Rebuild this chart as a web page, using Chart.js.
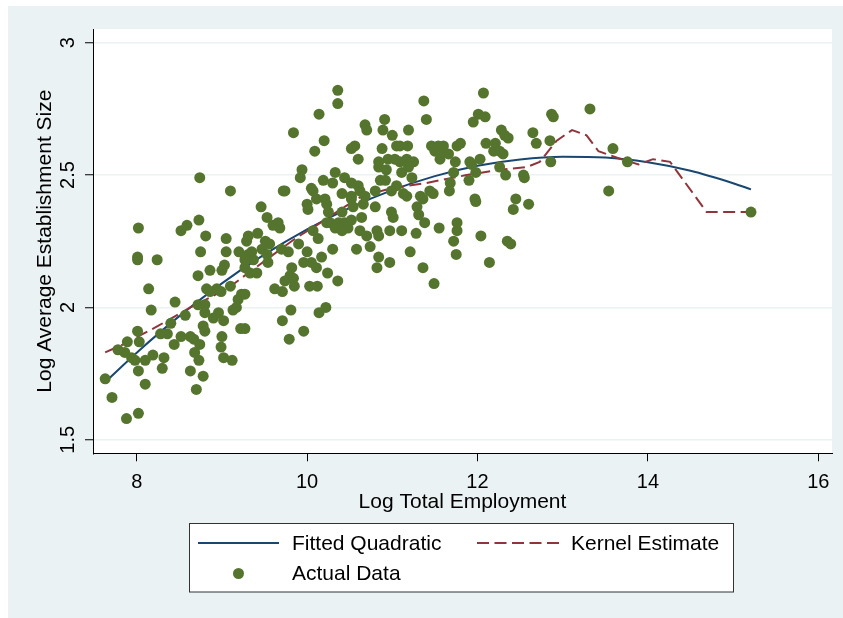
<!DOCTYPE html>
<html><head><meta charset="utf-8">
<script src="https://cdn.jsdelivr.net/npm/chart.js@4.4.1/dist/chart.umd.min.js"></script>
<style>html,body{margin:0;padding:0;background:#fff;}#wrap{width:843px;height:618px;}</style>
</head><body><div id="wrap"><canvas id="c" width="843" height="618"></canvas></div>
<script>
// ---- tick values / labels ----
const xTicks = [8, 10, 12, 14, 16];
const yTicks = [1.5, 2, 2.5, 3];
const yTickLabels = ['1.5', '2', '2.5', '3'];

// ---- Actual Data (log total employment, log average establishment size) ----
const actualX = [
  8.74,9.10,8.02,8.52,8.59,8.73,8.81,9.05,8.75,9.05,
  9.20,8.01,8.01,8.24,8.86,9.03,9.00,8.72,8.14,8.82,
  8.86,8.94,8.99,9.10,9.23,9.19,9.17,9.13,9.27,8.45,
  8.17,8.72,8.80,8.57,8.80,8.90,8.96,9.02,8.40,8.78,
  8.80,9.22,8.01,7.89,8.03,8.28,8.36,8.52,8.63,8.67,
  8.74,8.44,9.00,8.99,7.78,7.86,7.94,7.98,8.10,8.19,
  8.32,8.30,8.68,8.73,9.02,9.12,8.02,8.63,8.78,8.10,
  8.70,7.63,7.71,7.88,8.02,
  10.36,10.36,10.14,9.84,10.20,10.09,10.91,10.68,10.70,10.89,
  11.00,10.56,10.52,10.60,10.88,11.05,10.84,10.95,11.03,10.84,
  10.93,11.11,9.94,9.92,10.33,10.19,10.30,10.44,10.52,10.60,
  10.05,10.07,9.72,9.74,10.41,10.52,10.62,10.68,10.80,10.86,
  10.92,10.99,11.05,10.00,10.01,10.11,10.21,10.23,10.52,10.54,
  10.66,10.80,9.46,9.53,9.60,9.66,9.68,10.25,10.41,10.27,
  10.37,10.44,10.52,10.64,10.23,10.33,10.41,10.48,10.07,10.13,
  10.62,10.70,10.82,10.84,10.97,11.11,10.74,10.58,9.42,9.31,
  9.29,9.51,9.56,9.47,9.53,9.54,9.35,9.31,9.37,9.27,
  9.70,9.78,9.90,10.00,9.96,10.05,10.11,10.17,10.30,10.24,
  10.36,9.82,9.80,9.74,9.84,9.85,9.62,9.71,10.03,10.12,
  9.33,9.41,9.27,9.81,9.71,9.79,9.96,10.14,10.22,9.27,
  10.97,10.82,10.84,11.13,11.01,10.99,
  12.07,11.37,11.40,12.01,11.95,12.09,12.87,12.89,11.19,12.28,
  12.32,12.36,12.65,12.69,12.85,11.09,11.18,11.46,11.54,11.60,
  11.50,11.58,11.66,11.56,11.76,11.80,12.10,12.21,12.19,12.26,
  12.30,11.17,11.25,11.09,11.19,11.23,11.74,11.72,11.68,11.67,
  11.91,12.03,11.93,11.98,11.90,12.26,12.33,12.54,12.55,12.86,
  11.44,11.48,11.33,11.29,11.17,11.36,11.31,11.38,11.28,11.55,
  11.76,11.76,11.72,11.75,11.97,11.98,12.04,12.35,12.39,12.45,
  12.42,12.60,11.21,11.36,11.49,12.14,
  13.32,13.59,13.76,13.54,15.21
];
const actualY = [
  2.49,2.44,2.30,2.29,2.31,2.33,2.27,2.26,2.21,2.21,
  2.21,2.19,2.18,2.18,2.14,2.16,2.14,2.12,2.07,2.07,
  2.06,2.07,2.06,2.08,2.05,2.03,2.00,1.99,2.15,2.02,
  1.99,2.01,2.01,1.97,1.98,1.96,1.98,1.95,1.94,1.93,
  1.91,1.92,1.91,1.87,1.87,1.90,1.90,1.89,1.89,1.88,
  1.86,1.86,1.89,1.85,1.84,1.83,1.81,1.80,1.80,1.82,
  1.81,1.77,1.83,1.80,1.81,1.80,1.76,1.76,1.74,1.71,
  1.69,1.73,1.66,1.58,1.60,
  2.82,2.77,2.73,2.66,2.63,2.59,2.71,2.69,2.67,2.67,
  2.65,2.61,2.60,2.56,2.60,2.61,2.55,2.56,2.56,2.53,
  2.52,2.51,2.52,2.49,2.51,2.48,2.47,2.49,2.47,2.46,
  2.45,2.44,2.44,2.44,2.43,2.42,2.44,2.42,2.44,2.48,
  2.48,2.44,2.46,2.39,2.37,2.41,2.41,2.39,2.41,2.38,
  2.39,2.38,2.38,2.34,2.31,2.32,2.30,2.36,2.36,2.32,
  2.32,2.32,2.33,2.34,2.32,2.30,2.29,2.30,2.29,2.26,
  2.29,2.27,2.29,2.27,2.29,2.29,2.23,2.22,2.28,2.27,
  2.25,2.25,2.24,2.22,2.20,2.17,2.21,2.20,2.18,2.18,
  2.22,2.21,2.24,2.21,2.17,2.17,2.15,2.19,2.22,2.13,
  2.10,2.15,2.12,2.10,2.11,2.08,2.07,2.06,2.08,2.08,
  2.13,2.13,2.05,1.99,1.95,1.88,1.91,1.98,2.00,1.92,
  2.17,2.15,2.19,2.43,2.34,2.36,
  2.81,2.78,2.71,2.73,2.70,2.72,2.73,2.72,2.67,2.67,
  2.65,2.64,2.66,2.62,2.63,2.61,2.61,2.61,2.61,2.61,
  2.59,2.58,2.58,2.56,2.61,2.62,2.62,2.62,2.59,2.59,
  2.58,2.56,2.55,2.55,2.53,2.49,2.55,2.51,2.47,2.44,
  2.55,2.56,2.54,2.51,2.48,2.53,2.50,2.50,2.49,2.55,
  2.44,2.43,2.42,2.38,2.42,2.41,2.35,2.32,2.28,2.30,
  2.32,2.29,2.25,2.20,2.41,2.40,2.27,2.25,2.24,2.41,
  2.37,2.39,2.21,2.15,2.09,2.17,
  2.75,2.60,2.55,2.44,2.36
];

// ---- Fitted Quadratic ----
const fitX = [7.63, 8.0, 8.5, 9.0, 9.5, 10.0, 10.5, 11.0, 11.5, 12.0, 12.5, 13.0, 13.5, 14.0, 14.5, 15.0, 15.21];
const fitY = [1.718, 1.829, 1.967, 2.091, 2.200, 2.295, 2.376, 2.443, 2.496, 2.535, 2.559, 2.569, 2.566, 2.548, 2.516, 2.469, 2.446];

// ---- Kernel Estimate ----
const kernX = [7.63, 7.84, 8.25, 8.63, 9.06, 9.31, 9.86, 10.11, 10.44, 10.64, 10.99, 11.40, 11.87, 12.26, 12.58, 12.73, 12.93, 13.11, 13.28, 13.42, 13.69, 13.89, 14.06, 14.26, 14.69, 15.20];
const kernY = [1.83, 1.86, 1.93, 2.00, 2.07, 2.13, 2.26, 2.31, 2.38, 2.42, 2.45, 2.47, 2.50, 2.52, 2.53, 2.55, 2.63, 2.67, 2.65, 2.59, 2.56, 2.54, 2.56, 2.55, 2.36, 2.36];

const seriesNames = ['Actual Data', 'Fitted Quadratic', 'Kernel Estimate'];

const FONT = '"Liberation Sans", Arial, Helvetica, sans-serif';
const GREEN = '#55752F', NAVY = '#1A476F', MAROON = '#90353B', PANEL = '#EAF2F3';

const toPts = (xs, ys) => xs.map((x, i) => ({x: x, y: ys[i]}));

const decor = {
  id: 'decor',
  beforeDraw(chart) {
    const ctx = chart.ctx, a = chart.chartArea;
    ctx.save();
    ctx.fillStyle = '#fff'; ctx.fillRect(0, 0, chart.width, chart.height);
    ctx.fillStyle = PANEL; ctx.fillRect(8, 6, chart.width - 8, chart.height - 6);
    ctx.fillStyle = '#fff'; ctx.fillRect(a.left, a.top, a.right - a.left, a.bottom - a.top);
    ctx.restore();
  },
  afterDraw(chart) {
    const ctx = chart.ctx, ys = chart.scales.y;
    ctx.save();
    ctx.fillStyle = '#000';
    ctx.font = '20px ' + FONT;
    ctx.textAlign = 'center'; ctx.textBaseline = 'middle';
    yTicks.forEach((v, i) => {
      const py = ys.getPixelForValue(v);
      ctx.save(); ctx.translate(68.7, py); ctx.rotate(-Math.PI / 2);
      ctx.fillText(yTickLabels[i], 0, 0); ctx.restore();
    });
    // legend box
    const ds = chart.data.datasets;
    ctx.fillStyle = '#fff'; ctx.fillRect(189, 523, 545, 69);
    ctx.strokeStyle = '#333'; ctx.lineWidth = 1; ctx.strokeRect(189.5, 523.5, 544, 68.5);
    ctx.lineWidth = 2;
    ctx.strokeStyle = NAVY; ctx.beginPath(); ctx.moveTo(198, 543); ctx.lineTo(279, 543); ctx.stroke();
    ctx.strokeStyle = MAROON; ctx.setLineDash([12, 5.5]);
    ctx.beginPath(); ctx.moveTo(477, 543); ctx.lineTo(559, 543); ctx.stroke(); ctx.setLineDash([]);
    ctx.fillStyle = GREEN; ctx.beginPath(); ctx.arc(238.5, 573.5, 5.5, 0, Math.PI * 2); ctx.fill();
    ctx.fillStyle = '#000'; ctx.font = '21px ' + FONT; ctx.textAlign = 'left'; ctx.textBaseline = 'middle';
    ctx.fillText(ds[1].label, 292, 544.5);
    ctx.fillText(ds[2].label, 571, 544.5);
    ctx.fillText(ds[0].label, 292, 574.5);
    ctx.restore();
  }
};

new Chart(document.getElementById('c'), {
  type: 'scatter',
  data: {
    datasets: [
      {label: seriesNames[0], data: toPts(actualX, actualY), order: 0,
       pointRadius: 5.5, pointBackgroundColor: GREEN, pointBorderWidth: 0, borderWidth: 0, showLine: false},
      {label: seriesNames[1], data: toPts(fitX, fitY), order: 2, showLine: true,
       borderColor: NAVY, borderWidth: 2, pointRadius: 0, tension: 0.4, cubicInterpolationMode: 'monotone'},
      {label: seriesNames[2], data: toPts(kernX, kernY), order: 1, showLine: true,
       borderColor: MAROON, borderWidth: 2, borderDash: [12, 5.5], pointRadius: 0, tension: 0}
    ]
  },
  options: {
    responsive: false, animation: false, devicePixelRatio: 1,
    layout: {padding: {left: 0, top: 29, right: 11, bottom: 103}},
    plugins: {legend: {display: false}, tooltip: {enabled: false}},
    scales: {
      x: {
        type: 'linear', position: 'bottom', min: 7.487, max: 16.161,
        afterBuildTicks: s => { s.ticks = xTicks.map(v => ({value: v})); },
        afterFit: s => { s.height = 61.7; },
        ticks: {font: {family: FONT, size: 20}, color: '#000', padding: 9, maxRotation: 0, autoSkip: false,
                callback: v => String(v)},
        grid: {drawOnChartArea: false, drawTicks: true, tickLength: 8, tickColor: '#000', tickWidth: 1},
        border: {display: true, color: '#000', width: 1},
        title: {display: true, text: 'Log Total Employment', color: '#000', padding: 0,
                font: {family: FONT, size: 21, lineHeight: 1.2}}
      },
      y: {
        type: 'linear', position: 'left', min: 1.4488, max: 3.0518,
        afterBuildTicks: s => { s.ticks = yTicks.map(v => ({value: v})); },
        afterFit: s => { s.width = 93; },
        ticks: {display: false},
        grid: {color: PANEL, lineWidth: 1.5, drawTicks: true, tickLength: 8, tickColor: '#000', tickWidth: 1},
        border: {display: true, color: '#000', width: 1},
        title: {display: true, text: 'Log Average Establishment Size', color: '#000',
                padding: {top: 32.4, bottom: 0}, font: {family: FONT, size: 21, lineHeight: 1.2}}
      }
    }
  },
  plugins: [decor]
});
</script>
</body></html>
